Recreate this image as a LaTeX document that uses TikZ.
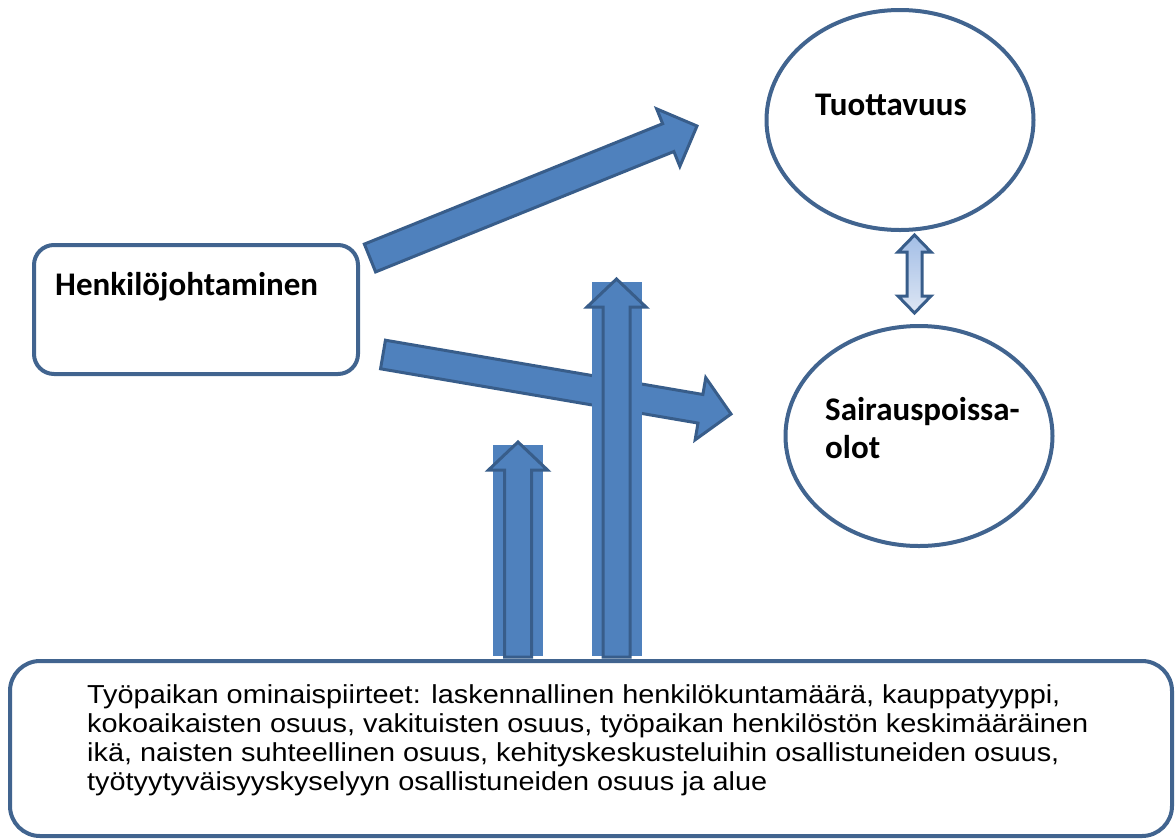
\documentclass[tikz,border=0pt]{standalone}
\usepackage{fontspec}
\setmainfont{Liberation Sans}
\newfontfamily\labelfont{Carlito}
\newfontfamily\bodyfont[FakeStretch=1.11]{Liberation Sans}
\usetikzlibrary{calc,shapes.geometric}
\definecolor{arrowFill}{HTML}{4F81BD}
\definecolor{arrowLine}{HTML}{385D8A}
\definecolor{boxLine}{HTML}{41648F}
\definecolor{dblTopFill}{HTML}{A3BEE6}
\definecolor{dblBotFill}{HTML}{DDE6F4}
%% block arrow from tail to tip: [style]{tail}{tip}{half shaft}{half head}{head length}
\newcommand{\blockarrow}[6][]{%
  \coordinate (bt) at (#2);
  \coordinate (bp) at (#3);
  \coordinate (bb) at ($(bp)!#6!(bt)$);
  \draw[#1] ($(bt)!#4!90:(bp)$) -- ($(bb)!#4!90:(bp)$) -- ($(bb)!#5!90:(bp)$)
    -- (bp) -- ($(bb)!#5!-90:(bp)$) -- ($(bb)!#4!-90:(bp)$)
    -- ($(bt)!#4!-90:(bp)$) -- cycle;
}
\begin{document}
\begin{tikzpicture}
[x=1pt,y=-1pt,
  blockDecorate/.style={fill=arrowFill,draw=arrowLine,line width=3pt,line join=miter},
  boxDecorate/.style={draw=boxLine,line width=4pt,fill=white,inner sep=0pt},
  ovalDecorate/.style={shape=ellipse,draw=boxLine,line width=4pt,fill=white,
    minimum width=267pt,minimum height=220pt,inner sep=0pt},
  labelDecorate/.style={font=\labelfont\bfseries\fontsize{33}{38}\selectfont,
    align=left,anchor=west,inner sep=0pt},
  textDecorate/.style={font=\bodyfont\fontsize{26}{29}\selectfont,align=left,
    anchor=north west,inner sep=0pt},
  dblDecorate/.style={draw=arrowLine,line width=3pt,top color=dblTopFill,
    bottom color=dblBotFill,line join=miter}]
\useasboundingbox (0,0) rectangle (1176,839);
%% shapes
\node (tuotto) at (900,120) [ovalDecorate] {};
\node (sairaus) at (919,436) [ovalDecorate] {};
\node (johto) at (196,309.5) [boxDecorate,rounded corners=20pt,
  minimum width=324pt,minimum height=129pt] {};
\node (ominais) at (591,748.5) [boxDecorate,rounded corners=30pt,
  minimum width=1162pt,minimum height=175pt] {};
%% texts
\node (tuottoText) at (815,105) [labelDecorate] {Tuottavuus};
\node (johtoText) at (55,287) [labelDecorate] {Henkilöjohtaminen};
\node (sairausText) at (825,428) [labelDecorate] {Sairauspoissa-\\olot};
\node (ominaisText) at (87,684) [textDecorate]
  {Työpaikan ominaispiirteet: laskennallinen henkilökuntamäärä, kauppatyyppi,\\
   kokoaikaisten osuus, vakituisten osuus, työpaikan henkilöstön keskimääräinen\\
   ikä, naisten suhteellinen osuus, kehityskeskusteluihin osallistuneiden osuus,\\
   työtyytyväisyyskyselyyn osallistuneiden osuus ja alue};
%% diagonal arrows
\coordinate (upTail) at (370,258);
\coordinate (upTip) at (697,126);
\coordinate (downTail) at (383,354.5);
\coordinate (downTip) at (731,414);
\blockarrow[blockDecorate]{upTail}{upTip}{15pt}{31pt}{31pt}
\blockarrow[blockDecorate]{downTail}{downTip}{14.5pt}{31.5pt}{31pt}
%% vertical arrows
\foreach \name/\x/\top/\tip in {small/518/445/442, large/616.5/282/279}
{
  \fill[arrowFill] (\x-25,\top) rectangle (\x+25,656);
  \coordinate (\name Tail) at (\x,657);
  \coordinate (\name Tip) at (\x,\tip);
  \blockarrow[blockDecorate]{\name Tail}{\name Tip}{13.5pt}{29.5pt}{28pt}
}
%% double arrow
\coordinate (dblTop) at (914.5,235);
\coordinate (dblBot) at (914.5,313);
\draw[dblDecorate] (dblTop) -- ++(16.5,17) -- ++(-9,0) -- ++(0,44) -- ++(9,0)
  -- (dblBot) -- ++(-16.5,-17) -- ++(9,0) -- ++(0,-44) -- ++(-9,0) -- cycle;
\end{tikzpicture}
\end{document}
